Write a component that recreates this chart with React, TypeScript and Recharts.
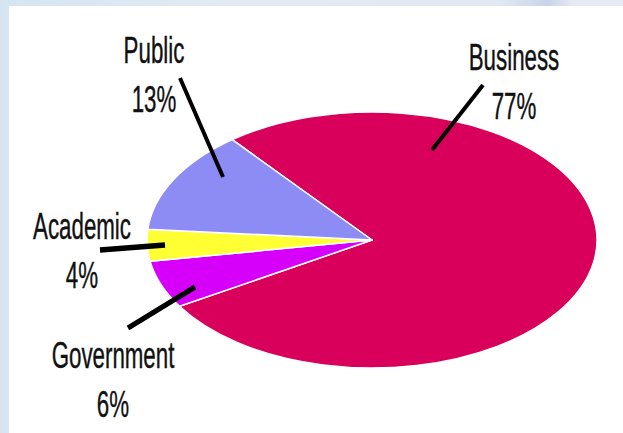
import React from "react";
import { Pie, PieChart } from "recharts";

const categories = ["Business", "Government", "Academic", "Public"];
const shares = [77, 6, 4, 13];
const colors = ["#d8005a", "#d600fa", "#ffff33", "#8c8cf4"];

const data = categories.map((name, i) => ({ name, value: shares[i], fill: colors[i] }));

// pie is drawn squashed into an ellipse
const Y_SCALE = 128 / 225;
const RAD = Math.PI / 180;

// hand placed labels, like the original slide
const labelLayout: Record<string, { x: number; y: number; line: number[]; w: number }> = {
  Business: { x: 514, y: 70, line: [483, 85, 432, 150], w: 4 },
  Government: { x: 113, y: 368, line: [128, 328, 195, 287], w: 5 },
  Academic: { x: 82, y: 239, line: [100, 250, 165, 245], w: 5.5 },
  Public: { x: 154, y: 63, line: [180, 78, 223, 177], w: 4 },
};

function EllipseSector(props: any) {
  const { cx, cy, outerRadius, startAngle, endAngle, fill } = props;
  const rx = outerRadius;
  const ry = outerRadius * Y_SCALE;
  const pt = (a: number) => [cx + rx * Math.cos(a * RAD), cy - ry * Math.sin(a * RAD)];
  const [x0, y0] = pt(startAngle);
  const [x1, y1] = pt(endAngle);
  const delta = endAngle - startAngle;
  const large = Math.abs(delta) > 180 ? 1 : 0;
  const sweep = delta < 0 ? 1 : 0;
  const d = `M${cx},${cy} L${x0},${y0} A${rx},${ry} 0 ${large} ${sweep} ${x1},${y1} Z`;
  return <path d={d} fill={fill} stroke="#ffffff" strokeWidth={1.5} strokeLinejoin="round" />;
}

function SliceLabel(props: any) {
  const { index } = props;
  const name = categories[index];
  const l = labelLayout[name];
  if (!l) return null;
  const [x1, y1, x2, y2] = l.line;
  return (
    <g>
      <line x1={x1} y1={y1} x2={x2} y2={y2} stroke="#000" strokeWidth={l.w} />
      <g transform={`translate(${l.x},0) scale(0.62,1)`}>
        <text
          x={0}
          textAnchor="middle"
          fontFamily="'Liberation Sans', Arial, sans-serif"
          fontSize={36}
          fill="#111"
          stroke="#111"
          strokeWidth={0.4}
        >
          <tspan x={0} y={l.y}>{name}</tspan>
          <tspan x={0} y={l.y + 49}>{`${shares[index]}%`}</tspan>
        </text>
      </g>
    </g>
  );
}

export default function App() {
  return (
    <div
      style={{
        position: "fixed",
        left: 0,
        top: 0,
        width: 623,
        height: 433,
        background: "linear-gradient(90deg, #d4e5f1 0%, #e4eaf4 40%, #e2e8f3 80%, #c9d3ea 88%, #e6eaf4 92%)",
        overflow: "hidden",
      }}
    >
      <div
        style={{ position: "absolute", left: 9, top: 6, width: 614, height: 427, background: "#ffffff" }}
      />
      <div style={{ position: "absolute", left: 0, top: 0 }}>
        <PieChart width={623} height={433} margin={{ top: 0, right: 0, bottom: 0, left: 0 }}>
          <Pie
            data={data}
            dataKey="value"
            nameKey="name"
            cx={372}
            cy={240}
            outerRadius={225}
            startAngle={128.4}
            endAngle={-231.6}
            stroke="#ffffff"
            shape={EllipseSector}
            inactiveShape={EllipseSector}
            activeShape={EllipseSector}
            label={SliceLabel}
            labelLine={false}
            isAnimationActive={false}
          />
        </PieChart>
      </div>
    </div>
  );
}
